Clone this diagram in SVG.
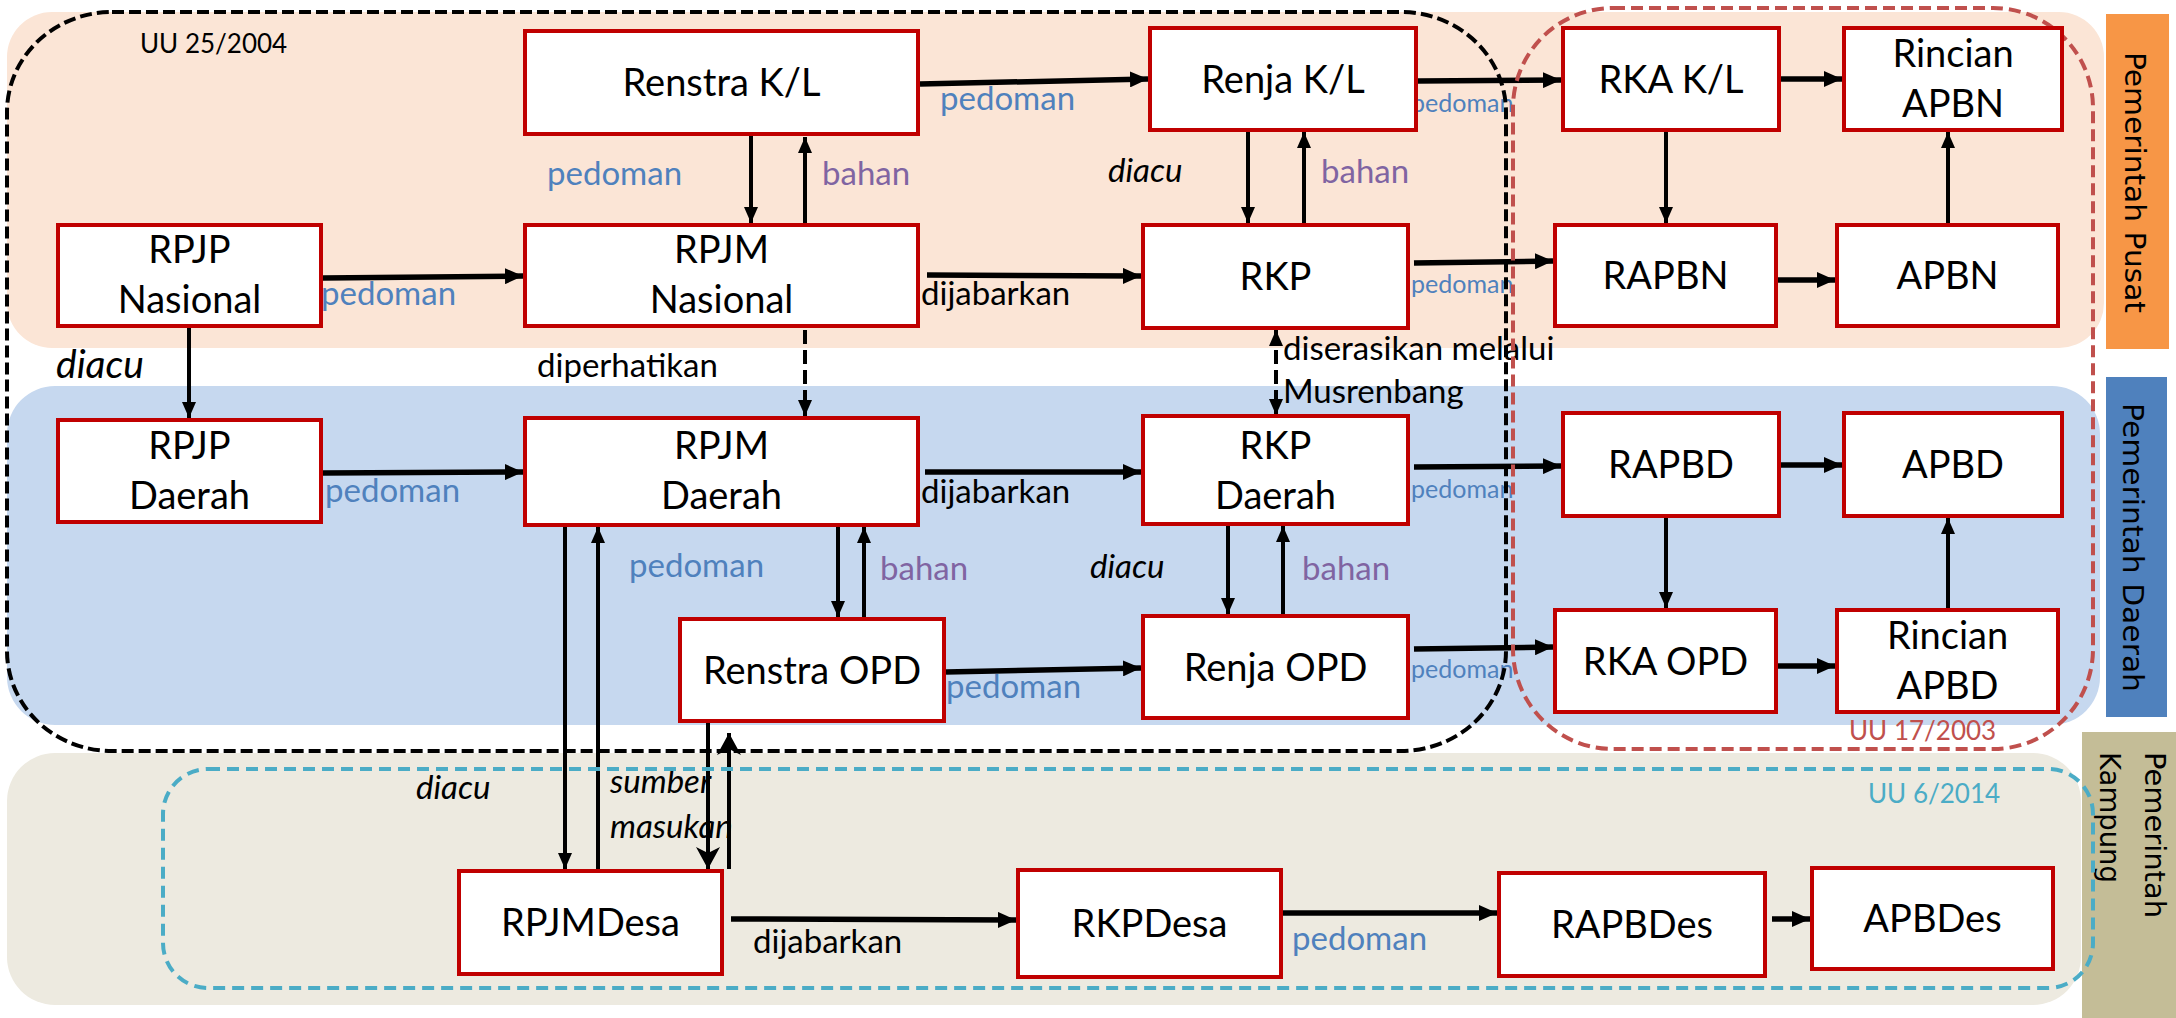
<svg xmlns="http://www.w3.org/2000/svg" width="2176" height="1018" viewBox="0 0 2176 1018">
  <style>
    .node rect { fill: #ffffff; stroke: #C00000; stroke-width: 4; }
    .node text { font-family: Lato, "Liberation Sans", sans-serif; font-size: 38px; fill: #000; text-anchor: middle; }
    .lbl { font-family: Lato, "Liberation Sans", sans-serif; font-size: 33px; fill: #000; }
    .blue { fill: #4F81BD; }
    .purple { fill: #8064A2; }
    .small { font-size: 25px; }
    .it { font-style: italic; }
    .law { font-family: Lato, "Liberation Sans", sans-serif; font-size: 26px; }
    .side { font-family: "DejaVu Sans", Verdana, sans-serif; font-size: 29px; fill: #000; }
    .thick { stroke: #000; stroke-width: 5.5; fill: none; }
    .thin { stroke: #000; stroke-width: 4; fill: none; }
    .dash { stroke-dasharray: 14 6; }
  </style>
  <defs>
    <marker id="ah" markerUnits="userSpaceOnUse" markerWidth="18" markerHeight="16" refX="18" refY="8" orient="auto">
      <path d="M0,0 L18,8 L0,16 z" fill="#000"/>
    </marker>
    <marker id="ahs" markerUnits="userSpaceOnUse" markerWidth="16" markerHeight="14" refX="16" refY="7" orient="auto">
      <path d="M0,0 L16,7 L0,14 z" fill="#000"/>
    </marker>
    <marker id="ahsStart" markerUnits="userSpaceOnUse" markerWidth="16" markerHeight="14" refX="0" refY="7" orient="auto">
      <path d="M16,0 L0,7 L16,14 z" fill="#000"/>
    </marker>
    <marker id="ahBig" markerUnits="userSpaceOnUse" markerWidth="22" markerHeight="24" refX="22" refY="12" orient="auto">
      <path d="M0,0 L22,12 L0,24 L6,12 z" fill="#000"/>
    </marker>
  </defs>

  <rect width="2176" height="1018" fill="#ffffff"/>

  <!-- level bands -->
  <g id="bands">
    <rect x="7" y="12" width="2097" height="336" rx="45" fill="#FBE5D6"/>
    <rect x="7" y="386" width="2093" height="339" rx="48" fill="#C6D8EF"/>
    <rect x="7" y="753" width="2074" height="252" rx="48" fill="#EDEAE0"/>
  </g>

  <!-- level captions -->
  <g id="level-captions">
    <rect x="2106" y="14" width="63" height="335" fill="#F79646"/>
    <text class="side" transform="translate(2125,52) rotate(90)" textLength="261" lengthAdjust="spacingAndGlyphs">Pemerintah Pusat</text>
    <rect x="2106" y="377" width="61" height="340" fill="#4F81BD"/>
    <text class="side" transform="translate(2123,403) rotate(90)" textLength="289" lengthAdjust="spacingAndGlyphs">Pemerintah Daerah</text>
    <rect x="2082" y="732" width="94" height="286" fill="#C4BD97"/>
    <text class="side" transform="translate(2145,752) rotate(90)" textLength="166" lengthAdjust="spacingAndGlyphs">Pemerintah</text>
    <text class="side" transform="translate(2100,752) rotate(90)" textLength="131" lengthAdjust="spacingAndGlyphs">Kampung</text>
  </g>

  <!-- connectors -->
  <g id="connectors">
    <!-- horizontal flows -->
    <path class="thick" marker-end="url(#ah)" d="M323,278 L523,276"/>
    <path class="thick" marker-end="url(#ah)" d="M920,84 L1148,79"/>
    <path class="thick" marker-end="url(#ah)" d="M1418,81 L1561,80"/>
    <path class="thick" marker-end="url(#ah)" d="M1781,79 L1842,79"/>
    <path class="thick" marker-end="url(#ah)" d="M927,275 L1141,276"/>
    <path class="thick" marker-end="url(#ah)" d="M1414,263 L1553,261"/>
    <path class="thick" marker-end="url(#ah)" d="M1778,280 L1835,280"/>
    <path class="thick" marker-end="url(#ah)" d="M323,473 L523,472"/>
    <path class="thick" marker-end="url(#ah)" d="M925,472 L1141,472"/>
    <path class="thick" marker-end="url(#ah)" d="M1414,467 L1561,466"/>
    <path class="thick" marker-end="url(#ah)" d="M1781,465 L1842,465"/>
    <path class="thick" marker-end="url(#ah)" d="M946,672 L1141,668"/>
    <path class="thick" marker-end="url(#ah)" d="M1414,649 L1553,647"/>
    <path class="thick" marker-end="url(#ah)" d="M1778,666 L1835,666"/>
    <path class="thick" marker-end="url(#ah)" d="M731,919 L1016,920"/>
    <path class="thick" marker-end="url(#ah)" d="M1283,913 L1497,913"/>
    <path class="thick" marker-end="url(#ah)" d="M1772,919 L1810,919"/>

    <!-- vertical flows -->
    <path class="thin" marker-end="url(#ahs)" d="M751,136 L751,223"/>
    <path class="thin" marker-end="url(#ahs)" d="M805,228 L805,137"/>
    <path class="thin" marker-end="url(#ahs)" d="M189,328 L189,418"/>
    <path class="thin dash" marker-end="url(#ahs)" d="M805,330 L805,416"/>
    <path class="thin" marker-end="url(#ahs)" d="M1248,132 L1248,223"/>
    <path class="thin" marker-end="url(#ahs)" d="M1304,223 L1304,132"/>
    <path class="thin" marker-end="url(#ahs)" d="M1666,132 L1666,223"/>
    <path class="thin" marker-end="url(#ahs)" d="M1948,223 L1948,132"/>
    <path class="thin dash" marker-start="url(#ahsStart)" marker-end="url(#ahs)" d="M1276,330 L1276,415"/>
    <path class="thin" marker-end="url(#ahs)" d="M838,527 L838,617"/>
    <path class="thin" marker-end="url(#ahs)" d="M864,622 L864,527"/>
    <path class="thin" marker-end="url(#ahs)" d="M1228,526 L1228,614"/>
    <path class="thin" marker-end="url(#ahs)" d="M1283,614 L1283,526"/>
    <path class="thin" marker-end="url(#ahs)" d="M1666,518 L1666,608"/>
    <path class="thin" marker-end="url(#ahs)" d="M1948,608 L1948,518"/>
    <path class="thin" marker-end="url(#ahs)" d="M565,527 L565,869"/>
    <path class="thin" marker-end="url(#ahs)" d="M598,869 L598,527"/>
    <path class="thin" marker-end="url(#ahBig)" d="M708,723 L708,869"/>
    <path class="thin" marker-end="url(#ahBig)" d="M729,869 L729,733"/>
  </g>

  <!-- connector labels -->
  <g id="labels">
    <text class="lbl blue" x="940" y="110">pedoman</text>
    <text class="lbl blue" x="547" y="185">pedoman</text>
    <text class="lbl purple" x="822" y="185">bahan</text>
    <text class="lbl blue" x="321" y="305">pedoman</text>
    <text class="lbl" x="921" y="305">dijabarkan</text>
    <text class="lbl it" x="56" y="378" style="font-size:39px">diacu</text>
    <text class="lbl" x="537" y="377">diperhatikan</text>
    <text class="lbl it" x="1108" y="182">diacu</text>
    <text class="lbl purple" x="1321" y="183">bahan</text>
    <text class="lbl blue small" x="1411" y="112">pedoman</text>
    <text class="lbl blue small" x="1411" y="293">pedoman</text>
    <text class="lbl" x="1283" y="360">diserasikan melalui</text>
    <text class="lbl" x="1283" y="403">Musrenbang</text>
    <text class="lbl blue" x="325" y="502">pedoman</text>
    <text class="lbl" x="921" y="503">dijabarkan</text>
    <text class="lbl blue small" x="1411" y="498">pedoman</text>
    <text class="lbl blue" x="629" y="577">pedoman</text>
    <text class="lbl purple" x="880" y="580">bahan</text>
    <text class="lbl it" x="1090" y="578">diacu</text>
    <text class="lbl purple" x="1302" y="580">bahan</text>
    <text class="lbl blue" x="946" y="698">pedoman</text>
    <text class="lbl blue small" x="1411" y="678">pedoman</text>
    <text class="lbl it" x="416" y="799">diacu</text>
    <text class="lbl it" x="610" y="793">sumber</text>
    <text class="lbl it" x="610" y="838">masukan</text>
    <text class="lbl" x="753" y="953">dijabarkan</text>
    <text class="lbl blue" x="1292" y="950">pedoman</text>
  </g>

  <!-- legal scope outlines -->
  <g id="scopes" fill="none" stroke-width="4">
    <rect x="7" y="12" width="1499" height="739" rx="105" ry="100" stroke="#000" stroke-dasharray="12 5"/>
    <rect x="1513" y="8" width="580" height="741" rx="100" stroke="#C0504D" stroke-dasharray="12 6"/>
    <rect x="163" y="769" width="1930" height="219" rx="45" stroke="#4BACC6" stroke-dasharray="12 7"/>
    <text class="law" x="140" y="53" fill="#000" stroke="none">UU 25/2004</text>
    <text class="law" x="1849" y="740" fill="#C0504D" stroke="none">UU 17/2003</text>
    <text class="law" x="1868" y="803" fill="#4BACC6" stroke="none">UU 6/2014</text>
  </g>

  <!-- documents -->
  <g id="renstra-kl" class="node"><rect x="525" y="31" width="393" height="103"/><text x="721.5" y="96">Renstra K/L</text></g>
  <g id="renja-kl" class="node"><rect x="1150" y="28" width="266" height="102"/><text x="1283" y="92.5">Renja K/L</text></g>
  <g id="rka-kl" class="node"><rect x="1563" y="28" width="216" height="102"/><text x="1671" y="92.5">RKA K/L</text></g>
  <g id="rincian-apbn" class="node"><rect x="1844" y="28" width="218" height="102"/><text x="1953" y="66.5">Rincian</text><text x="1953" y="116.5">APBN</text></g>
  <g id="rpjp-nasional" class="node"><rect x="58" y="225" width="263" height="101"/><text x="189.5" y="263">RPJP</text><text x="189.5" y="313">Nasional</text></g>
  <g id="rpjm-nasional" class="node"><rect x="525" y="225" width="393" height="101"/><text x="721.5" y="263">RPJM</text><text x="721.5" y="313">Nasional</text></g>
  <g id="rkp" class="node"><rect x="1143" y="225" width="265" height="103"/><text x="1275.5" y="290">RKP</text></g>
  <g id="rapbn" class="node"><rect x="1555" y="225" width="221" height="101"/><text x="1665.5" y="289">RAPBN</text></g>
  <g id="apbn" class="node"><rect x="1837" y="225" width="221" height="101"/><text x="1947.5" y="289">APBN</text></g>
  <g id="rpjp-daerah" class="node"><rect x="58" y="420" width="263" height="102"/><text x="189.5" y="458.5">RPJP</text><text x="189.5" y="508.5">Daerah</text></g>
  <g id="rpjm-daerah" class="node"><rect x="525" y="418" width="393" height="107"/><text x="721.5" y="459">RPJM</text><text x="721.5" y="509">Daerah</text></g>
  <g id="rkp-daerah" class="node"><rect x="1143" y="416" width="265" height="108"/><text x="1275.5" y="459">RKP</text><text x="1275.5" y="509">Daerah</text></g>
  <g id="rapbd" class="node"><rect x="1563" y="413" width="216" height="103"/><text x="1671" y="478">RAPBD</text></g>
  <g id="apbd" class="node"><rect x="1844" y="413" width="218" height="103"/><text x="1953" y="478">APBD</text></g>
  <g id="renstra-opd" class="node"><rect x="680" y="619" width="264" height="102"/><text x="812" y="683.5">Renstra OPD</text></g>
  <g id="renja-opd" class="node"><rect x="1143" y="616" width="265" height="102"/><text x="1275.5" y="680.5">Renja OPD</text></g>
  <g id="rka-opd" class="node"><rect x="1555" y="610" width="221" height="102"/><text x="1665.5" y="674.5">RKA OPD</text></g>
  <g id="rincian-apbd" class="node"><rect x="1837" y="610" width="221" height="102"/><text x="1947.5" y="649">Rincian</text><text x="1947.5" y="699">APBD</text></g>
  <g id="rpjmdesa" class="node"><rect x="459" y="871" width="263" height="103"/><text x="590.5" y="936">RPJMDesa</text></g>
  <g id="rkpdesa" class="node"><rect x="1018" y="870" width="263" height="107"/><text x="1149.5" y="937">RKPDesa</text></g>
  <g id="rapbdes" class="node"><rect x="1499" y="873" width="266" height="103"/><text x="1632" y="938">RAPBDes</text></g>
  <g id="apbdes" class="node"><rect x="1812" y="868" width="241" height="101"/><text x="1932.5" y="932">APBDes</text></g>
</svg>
